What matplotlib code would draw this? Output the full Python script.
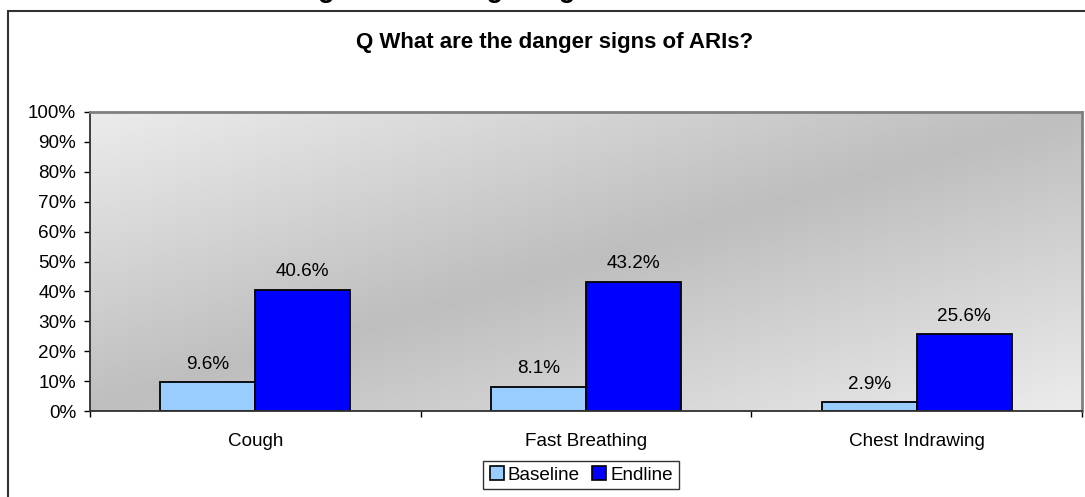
import numpy as np
import matplotlib
matplotlib.use("Agg")
import matplotlib.pyplot as plt
from matplotlib.patches import Rectangle
from matplotlib.lines import Line2D

plt.rcParams['font.family'] = ['Liberation Sans', 'DejaVu Sans']

categories = ["Cough", "Fast Breathing", "Chest Indrawing"]
baseline = [9.6, 8.1, 2.9]
endline = [40.6, 43.2, 25.6]
series_names = ["Baseline", "Endline"]
colors = ["#99CCFF", "#0000FF"]
title = "Q What are the danger signs of ARIs?"
cut_heading = "Knowledge about danger signs of ARIs"

W, H = 1085, 497
fig = plt.figure(figsize=(W / 100, H / 100), dpi=100)

def px(x, y):
    return x / W, 1 - y / H

# outer chart border (right and bottom run off the picture)
fig.patches.append(Rectangle(px(8, 540), (1200 - 8) / W, (540 - 11) / H,
                             transform=fig.transFigure, fill=False,
                             edgecolor="#333333", linewidth=1.5))

# partially cut heading above the chart (only descenders visible)
fig.text(205 / W, 1 + 2.5 / H, cut_heading, fontsize=19.5, fontweight="bold",
         ha="left", va="baseline")

left, right, top, bottom = 90, 1082, 112, 411
ax = fig.add_axes([left / W, (H - bottom) / H, (right - left) / W, (bottom - top) / H])

# gradient background
u = np.linspace(0, 1, 400)
v = np.linspace(1, 0, 200)
U, V = np.meshgrid(u, v)
t = np.abs(U - V)
dark, light = 190 / 255, 236 / 255
g = dark + (light - dark) * t
img = np.dstack([g, g, g])
ax.imshow(img, extent=[0, 1, 0, 1], transform=ax.transAxes, aspect="auto",
          zorder=0, interpolation="bilinear")

x = np.arange(len(categories))
bw = 0.287
b1 = ax.bar(x - bw / 2, baseline, bw, color=colors[0], edgecolor="black",
            linewidth=1.3, zorder=2, label=series_names[0])
b2 = ax.bar(x + bw / 2, endline, bw, color=colors[1], edgecolor="black",
            linewidth=1.3, zorder=2, label=series_names[1])

FS = 13.6
for bars, vals in ((b1, baseline), (b2, endline)):
    for r, val in zip(bars, vals):
        ax.annotate(f"{val:.1f}%", (r.get_x() + r.get_width() / 2, r.get_height()),
                    xytext=(0, 7), textcoords="offset points", ha="center",
                    va="bottom", fontsize=FS, color="black", zorder=3)

ax.set_xlim(-0.5, len(categories) - 0.5)
ax.set_ylim(0, 100)
ax.set_yticks(np.arange(0, 101, 10))
ax.set_yticklabels([f"{v}%" for v in range(0, 101, 10)])
ax.set_xticks(x)
ax.set_xticklabels(categories)
ax.set_xticks(np.arange(-0.5, len(categories), 1), minor=True)
ax.tick_params(axis="x", which="major", length=0, pad=16, labelsize=FS)
ax.tick_params(axis="x", which="minor", length=4, width=1, color="black", direction="out")
ax.tick_params(axis="y", length=4, width=1, color="black", pad=6, labelsize=FS)

for s in ("left", "bottom"):
    ax.spines[s].set_color("#303030")
    ax.spines[s].set_linewidth(1.3)
for s in ("top", "right"):
    ax.spines[s].set_color("#808080")
    ax.spines[s].set_linewidth(2)

ax.set_zorder(1)

fig.text(555 / W, 1 - 48 / H, title, fontsize=16, fontweight="bold",
         ha="center", va="baseline")

handles = [Line2D([], [], marker="s", linestyle="none", markersize=9.5,
                  markerfacecolor=c, markeredgecolor="black", markeredgewidth=1.2)
           for c in colors]
leg = fig.legend(handles, series_names, loc="center", bbox_to_anchor=px(581, 475),
                 ncol=2, fontsize=FS, frameon=True, fancybox=False,
                 handlelength=0.8, handletextpad=0.2, columnspacing=0.6,
                 borderpad=0.3, borderaxespad=0)
leg.get_frame().set_edgecolor("black")
leg.get_frame().set_linewidth(1)

fig.savefig("out.png", dpi=100)
